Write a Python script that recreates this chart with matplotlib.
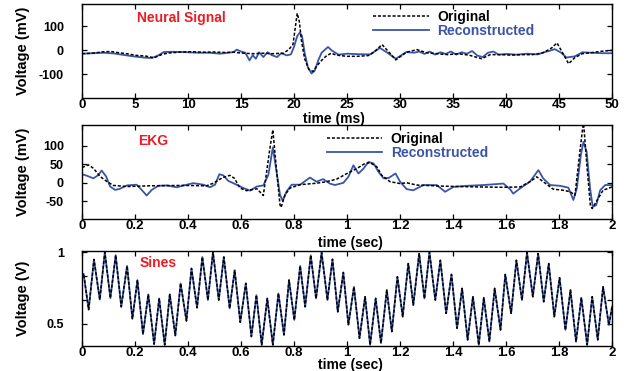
import matplotlib
matplotlib.use('Agg')
import matplotlib.pyplot as plt

plt.rcParams['font.family'] = ['Liberation Sans', 'DejaVu Sans']
plt.rcParams['font.weight'] = 'bold'
plt.rcParams['axes.unicode_minus'] = False

BLUE = '#3a55a8'
RED = '#ec1c24'

# ---- neural signal (ms, mV) ----
neural_t_orig = [0, 1, 2, 2.7, 3.5, 4.2, 5.1, 6.0, 6.8, 7.6, 8.2, 9.4, 10.3, 11.5, 12.4,
                 13.5, 14.3, 15.2, 16.2, 17.0, 18.0, 19.0, 19.5, 19.9, 20.1, 20.3, 20.5,
                 20.7, 21.0, 21.4, 21.8, 22.2, 22.6, 23.0, 23.5, 24.0, 25.0, 26.0, 27.0,
                 27.6, 28.3, 28.8, 29.6, 30.6, 31.6, 32.5, 33.5, 34.5, 35.5, 36.5, 37.7,
                 38.5, 39.5, 40.5, 41.5, 42.5, 43.5, 44.3, 44.8, 45.2, 45.9, 46.5, 47.2,
                 48.0, 49.0, 50.0]
neural_v_orig = [-14, -12, -6, -5, -10, -14, -21, -24, -31, -16, -11, -7, -6, -8, -7,
                 -9, -8, -12, -14, -12, -14, -12, 3, 25, 90, 155, 120,
                 40, -35, -80, -88, -62, -42, -25, -12, -20, -25, -25, -22,
                 -5, 24, 0, -40, -8, 3, -10, -14, -18, -14, -20, -35,
                 -18, -18, -20, -18, -18, -10, 10, 31, 0, -56, -30, -14,
                 -10, -4, 0]

neural_t_rec = [0, 1, 2, 3, 3.6, 4.8, 6.0, 6.6, 7.2, 7.7, 8.5, 9.4, 10.9, 12, 13.0,
                13.8, 14.3, 14.6, 15.0, 15.4, 15.8, 16.1, 16.4, 16.7, 17.1, 17.5, 17.9,
                18.4, 18.8, 19.3, 19.7, 20.0, 20.3, 20.55, 20.75, 21.0, 21.3, 21.65,
                21.95, 22.3, 22.6, 23.2, 23.6, 24.2, 25, 26, 27.2, 28.1, 28.8, 29.6,
                30.6, 31.3, 31.8, 32.3, 32.8, 33.3, 33.8, 34.3, 34.8, 35.3, 35.8, 36.3,
                36.8, 37.3, 37.8, 38.3, 38.8, 39.3, 40, 41, 42, 43, 43.6, 44.1, 44.6,
                45.2, 45.7, 46.5, 47.2, 48, 49, 50]
neural_v_rec = [-14, -12, -10, -13, -17, -25, -31, -32, -21, -7, -6, -7, -10, -10, -14,
                -10, -7, 3, -5, -10, -42, -20, -35, -8, -28, -8, -20,
                -28, -12, -21, -17, 15, 60, 74, 60, -10, -70, -97,
                -85, -40, -10, 14, -2, -18, -14, -16, -17, 10, -10, -35,
                -7, -10, -5, -15, -5, -18, -8, -15, -5, -18, -8, -14,
                -3, -22, -28, -10, -5, -18, -15, -18, -14, -17, -8, -2, 5,
                -10, -30, -25, -8, -10, -12, -12]

# ---- EKG (sec, mV) ----
ekg_t_orig = [0.000, 0.024, 0.043, 0.068, 0.093, 0.118, 0.169, 0.257, 0.380, 0.470,
              0.496, 0.530, 0.558, 0.575, 0.596, 0.620, 0.660, 0.684, 0.709, 0.720,
              0.732, 0.747, 0.751, 0.766, 0.785, 0.823, 0.886, 0.923, 0.961, 1.000,
              1.036, 1.068, 1.087, 1.112, 1.131, 1.162, 1.200, 1.225, 1.263, 1.363,
              1.489, 1.590, 1.653, 1.690, 1.716, 1.740, 1.778, 1.816, 1.842, 1.860,
              1.877, 1.892, 1.905, 1.918, 1.925, 1.940, 1.966, 2.000]
ekg_v_orig = [41, 48, 39, 17, 4, -7, -10, -8, -7, -8,
              -1, 14, 20, 12, -14, -21, -16, -34, 93, 142,
              48, -59, -66, -32, -14, -5, -1, 3, 10, 25,
              38, 52, 54, 43, 20, 3, -2, 0, -6, -9,
              -11, -12, -11, 3, 16, 3, -17, -20, -24, -33,
              74, 165, 47, -60, -69, -51, -20, -11]

ekg_t_rec = [0.000, 0.018, 0.043, 0.062, 0.074, 0.091, 0.106, 0.125, 0.143, 0.169,
             0.206, 0.225, 0.244, 0.263, 0.288, 0.320, 0.357, 0.395, 0.420, 0.458,
             0.483, 0.502, 0.518, 0.533, 0.552, 0.571, 0.609, 0.634, 0.659, 0.684,
             0.703, 0.720, 0.732, 0.747, 0.757, 0.772, 0.791, 0.823, 0.860, 0.885,
             0.910, 0.935, 0.954, 0.986, 1.005, 1.024, 1.043, 1.062, 1.081, 1.100,
             1.119, 1.138, 1.157, 1.183, 1.200, 1.225, 1.250, 1.288, 1.338, 1.370,
             1.401, 1.452, 1.514, 1.590, 1.615, 1.627, 1.653, 1.690, 1.722, 1.740,
             1.766, 1.804, 1.835, 1.854, 1.867, 1.882, 1.892, 1.904, 1.917, 1.927,
             1.940, 1.955, 1.974, 2.000]
ekg_v_rec = [23, 19, 12, 21, 33, 17, -10, -19, -16, -7,
             -5, -19, -34, -19, -8, -7, -12, -5, -1, -5,
             -12, -5, 23, 20, 5, -1, -14, -21, -10, -7,
             21, 95, 39, -32, -48, -23, -5, -5, 14, 3,
             10, -2, -6, 0, 16, 47, 25, 38, 56, 52,
             29, 12, 13, 25, 3, -17, -20, -6, -6, -24,
             -11, -8, -6, -2, -17, -29, -15, 3, 34, 12,
             -6, -8, -13, -46, -15, 74, 110, 83, -15, -64,
             -60, -20, -6, -6]

# ---- sines (sec, V): peaks and troughs ----
sine_t = [0.000, 0.006, 0.025, 0.045, 0.067, 0.086, 0.107, 0.127, 0.148, 0.170,
          0.190, 0.209, 0.230, 0.250, 0.272, 0.291, 0.312, 0.331, 0.352, 0.372,
          0.394, 0.413, 0.434, 0.454, 0.475, 0.494, 0.516, 0.535, 0.557, 0.576,
          0.597, 0.618, 0.639, 0.658, 0.678, 0.699, 0.720, 0.741, 0.762, 0.781,
          0.801, 0.823, 0.842, 0.863, 0.883, 0.904, 0.926, 0.945, 0.965, 0.986,
          1.005, 1.026, 1.047, 1.068, 1.087, 1.108, 1.128, 1.150, 1.169, 1.190,
          1.210, 1.231, 1.250, 1.272, 1.292, 1.311, 1.333, 1.352, 1.374, 1.394,
          1.415, 1.434, 1.455, 1.475, 1.497, 1.516, 1.537, 1.557, 1.579, 1.597,
          1.619, 1.639, 1.660, 1.679, 1.701, 1.721, 1.742, 1.761, 1.782, 1.802,
          1.824, 1.843, 1.864, 1.884, 1.906, 1.925, 1.946, 1.966, 1.988, 2.000]
sine_v = [0.83, 0.85, 0.60, 0.95, 0.67, 1.00, 0.68, 0.98, 0.62, 0.905,
          0.535, 0.806, 0.428, 0.706, 0.359, 0.678, 0.354, 0.706, 0.419, 0.783,
          0.521, 0.887, 0.613, 0.967, 0.667, 1.00, 0.667, 0.967, 0.609, 0.875,
          0.512, 0.783, 0.412, 0.701, 0.354, 0.678, 0.354, 0.713, 0.424, 0.806,
          0.528, 0.905, 0.620, 0.979, 0.678, 0.998, 0.667, 0.951, 0.585, 0.859,
          0.493, 0.759, 0.400, 0.690, 0.354, 0.678, 0.366, 0.736, 0.447, 0.829,
          0.551, 0.921, 0.632, 0.991, 0.678, 1.00, 0.667, 0.944, 0.574, 0.845,
          0.470, 0.748, 0.389, 0.690, 0.354, 0.683, 0.377, 0.748, 0.458, 0.845,
          0.574, 0.944, 0.667, 0.998, 0.690, 0.991, 0.655, 0.921, 0.551, 0.822,
          0.458, 0.736, 0.377, 0.683, 0.354, 0.690, 0.389, 0.759, 0.493, 0.62]

fig = plt.figure(figsize=(6.31, 3.71), dpi=100)


def style(ax):
    ax.tick_params(direction='in', top=True, right=True, length=3.5, width=0.9)
    ax.tick_params(axis='x', labelsize=9.5, pad=1)
    ax.tick_params(axis='y', labelsize=9, pad=13)
    for s in ax.spines.values():
        s.set_linewidth(1.0)


def draw(ax, t1, v1, t2, v2):
    ax.plot(t2, v2, color=BLUE, lw=1.3, label='Reconstructed')
    line, = ax.plot(t1, v1, color='black', lw=1.1, label='Original')
    line.set_dashes((2, 1.2))
    return line


# neural
ax1 = fig.add_axes([0.130, 0.736, 0.840, 0.2534])
draw(ax1, neural_t_orig, neural_v_orig, neural_t_rec, neural_v_rec)
ax1.set_xlim(0, 50)
ax1.set_ylim(-199, 194)
ax1.set_xticks(range(0, 51, 5))
ax1.set_yticks([-100, 0, 100])
style(ax1)
ax1.set_ylabel('Voltage (mV)', fontsize=10.5, fontweight='bold')
ax1.yaxis.set_label_coords(-0.098, 0.5)
ax1.set_xlabel('time (ms)', fontsize=10, fontweight='bold')
ax1.xaxis.set_label_coords(0.475, -0.145)
ax1.text(0.104, 0.855, 'Neural Signal', transform=ax1.transAxes, color=RED,
         fontsize=10, fontweight='bold', va='center')
h, l = ax1.get_legend_handles_labels()
ax1.legend(h[::-1], l[::-1], loc='upper left', bbox_to_anchor=(0.549, 0.94),
           frameon=False, borderpad=0, borderaxespad=0, handlelength=4.0,
           handletextpad=0.6, labelspacing=0.05, labelcolor='linecolor',
           prop={'size': 10, 'weight': 'bold'})

# EKG
ax2 = fig.add_axes([0.130, 0.4097, 0.840, 0.2534])
draw(ax2, ekg_t_orig, ekg_v_orig, ekg_t_rec, ekg_v_rec)
ax2.set_xlim(0, 2)
ax2.set_ylim(-97, 155)
ax2.set_xticks([0, 0.2, 0.4, 0.6, 0.8, 1, 1.2, 1.4, 1.6, 1.8, 2])
ax2.set_xticklabels(['0', '0.2', '0.4', '0.6', '0.8', '1', '1.2', '1.4', '1.6', '1.8', '2'])
ax2.set_yticks([-50, 0, 50, 100])
style(ax2)
ax2.set_ylabel('Voltage (mV)', fontsize=10.5, fontweight='bold')
ax2.yaxis.set_label_coords(-0.098, 0.5)
ax2.set_xlabel('time (sec)', fontsize=10, fontweight='bold')
ax2.xaxis.set_label_coords(0.506, -0.185)
ax2.text(0.105, 0.83, 'EKG', transform=ax2.transAxes, color=RED,
         fontsize=10, fontweight='bold', va='center')
h, l = ax2.get_legend_handles_labels()
ax2.legend(h[::-1], l[::-1], loc='upper left', bbox_to_anchor=(0.462, 0.93),
           frameon=False, borderpad=0, borderaxespad=0, handlelength=4.0,
           handletextpad=0.6, labelspacing=0.0, labelcolor='linecolor',
           prop={'size': 10, 'weight': 'bold'})

# sines
ax3 = fig.add_axes([0.130, 0.0674, 0.840, 0.256])
draw(ax3, sine_t, sine_v, sine_t, sine_v)
ax3.set_xlim(0, 2)
ax3.set_ylim(0.346, 1.009)
ax3.set_xticks([0, 0.2, 0.4, 0.6, 0.8, 1, 1.2, 1.4, 1.6, 1.8, 2])
ax3.set_xticklabels(['0', '0.2', '0.4', '0.6', '0.8', '1', '1.2', '1.4', '1.6', '1.8', '2'])
ax3.set_yticks([0.5, 0.6667, 0.8333, 1.0])
ax3.set_yticklabels(['0.5', '', '', '1'])
style(ax3)
ax3.set_ylabel('Voltage (V)', fontsize=10.5, fontweight='bold')
ax3.yaxis.set_label_coords(-0.098, 0.5)
ax3.set_xlabel('time (sec)', fontsize=10, fontweight='bold')
ax3.xaxis.set_label_coords(0.506, -0.125)
ax3.text(0.108, 0.87, 'Sines', transform=ax3.transAxes, color=RED,
         fontsize=10, fontweight='bold', va='center')

fig.savefig('out.png', dpi=100)
